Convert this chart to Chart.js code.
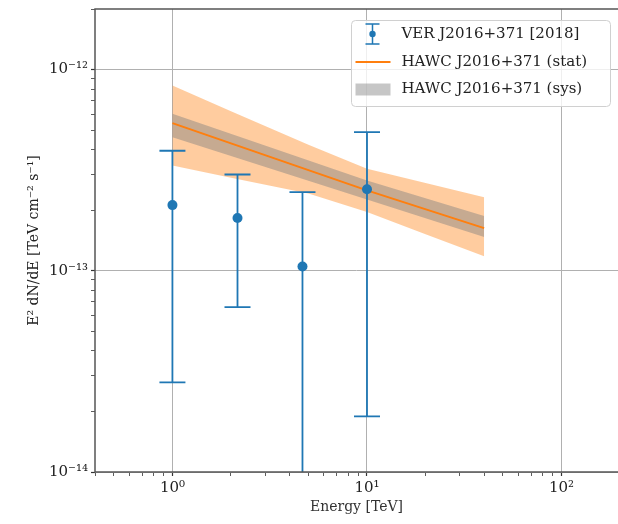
<!DOCTYPE html>
<html>
<head>
<meta charset="utf-8">
<script src="https://cdn.jsdelivr.net/npm/chart.js@4.4.1/dist/chart.umd.min.js"></script>
<style>
  html, body { margin: 0; padding: 0; background: #fff; }
  #wrap { width: 618px; height: 524px; }
</style>
</head>
<body>
<div id="wrap"><canvas id="chart" width="618" height="524"></canvas></div>
<script>
// VERITAS flux points (TeV, TeV cm^-2 s^-1)
const verEnergy = [1.0, 2.16, 4.66, 10.0];
const verFlux = [2.12e-13, 1.83e-13, 1.05e-13, 2.54e-13];
const verFluxHigh = [3.95e-13, 3.01e-13, 2.46e-13, 4.89e-13];
const verFluxLow = [2.79e-14, 6.6e-14, 1e-15, 1.89e-14];

// HAWC fit line and sys band
const hawcEnergy = [1, 10, 40];
const hawcFlux = [5.42e-13, 2.51e-13, 1.63e-13];
const hawcSysHigh = [6.03e-13, 2.81e-13, 1.87e-13];
const hawcSysLow = [4.61e-13, 2.26e-13, 1.47e-13];

// HAWC stat band
const statEnergy = [1, 2, 5, 10, 20, 40];
const hawcStatHigh = [8.33e-13, 6.21e-13, 4.23e-13, 3.21e-13, 2.73e-13, 2.32e-13];
const hawcStatLow = [3.34e-13, 2.90e-13, 2.42e-13, 1.96e-13, 1.52e-13, 1.18e-13];

const xMajor = [1, 10, 100];
const xLabels = ["10⁰", "10¹", "10²"];
const yMajor = [1e-14, 1e-13, 1e-12];
const yLabels = ["10⁻¹⁴", "10⁻¹³", "10⁻¹²"];
const legendLabels = ["VER J2016+371 [2018]", "HAWC J2016+371 (stat)", "HAWC J2016+371 (sys)"];

const azul = "#1f77b4";
const naranja = "#ff7f0e";
const fuente = "'DejaVu Serif', serif";

const pts = (xs, ys) => xs.map((x, i) => ({ x: x, y: ys[i] }));

function esDecada(v) {
  const l = Math.log10(v);
  return Math.abs(l - Math.round(l)) < 1e-6;
}

// ticks menores 2..9 y mayores en cada decada
function ticksLog(min, max) {
  const out = [];
  for (let e = Math.floor(Math.log10(min)); e <= Math.ceil(Math.log10(max)); e++) {
    for (let m = 1; m <= 9; m++) {
      const v = m * Math.pow(10, e);
      if (v >= min * 0.999 && v <= max * 1.001) out.push({ value: v, major: m === 1 });
    }
  }
  return out;
}

function etiqueta(value, majors, labels) {
  const i = majors.findIndex((v) => Math.abs(Math.log10(v) - Math.log10(value)) < 1e-6);
  return i >= 0 ? labels[i] : "";
}

const sinPadding = (s) => {
  s.paddingTop = 0;
  s.paddingBottom = 0;
  s.paddingLeft = 0;
  s.paddingRight = 0;
};

// barras de error, marco y leyenda
const extras = {
  id: "extras",
  beforeDatasetDraw(chart, args) {
    if (args.index !== 0) return;
    const { ctx, chartArea, scales } = chart;
    ctx.save();
    ctx.beginPath();
    ctx.rect(chartArea.left, chartArea.top, chartArea.right - chartArea.left, chartArea.bottom - chartArea.top);
    ctx.clip();
    ctx.strokeStyle = azul;
    ctx.lineWidth = 1.8;
    verEnergy.forEach((e, i) => {
      const x = scales.x.getPixelForValue(e);
      const yh = scales.y.getPixelForValue(verFluxHigh[i]);
      const yl = scales.y.getPixelForValue(verFluxLow[i]);
      ctx.beginPath();
      ctx.moveTo(x, yh);
      ctx.lineTo(x, yl);
      ctx.moveTo(x - 13, yh);
      ctx.lineTo(x + 13, yh);
      ctx.moveTo(x - 13, yl);
      ctx.lineTo(x + 13, yl);
      ctx.stroke();
    });
    ctx.restore();
  },
  afterDatasetsDraw(chart) {
    const { ctx, chartArea } = chart;
    ctx.save();
    ctx.strokeStyle = "#555";
    ctx.lineWidth = 1.5;
    ctx.strokeRect(chartArea.left, chartArea.top, chartArea.right - chartArea.left + 2, chartArea.bottom - chartArea.top);

    const bx = chartArea.right - 266.5;
    const by = chartArea.top + 11.5;
    ctx.beginPath();
    ctx.roundRect(bx, by, 259, 86, 4);
    ctx.fillStyle = "rgba(255,255,255,0.8)";
    ctx.fill();
    ctx.strokeStyle = "#d0d0d0";
    ctx.lineWidth = 1;
    ctx.stroke();

    const hx = bx + 4;
    const filas = [by + 13.5, by + 41.5, by + 69];
    const cx = hx + 17;
    ctx.strokeStyle = azul;
    ctx.lineWidth = 1.5;
    ctx.beginPath();
    ctx.moveTo(cx, filas[0] - 10);
    ctx.lineTo(cx, filas[0] + 10);
    ctx.moveTo(cx - 7, filas[0] - 10);
    ctx.lineTo(cx + 7, filas[0] - 10);
    ctx.moveTo(cx - 7, filas[0] + 10);
    ctx.lineTo(cx + 7, filas[0] + 10);
    ctx.stroke();
    ctx.fillStyle = azul;
    ctx.beginPath();
    ctx.arc(cx, filas[0], 3.2, 0, Math.PI * 2);
    ctx.fill();
    ctx.strokeStyle = naranja;
    ctx.lineWidth = 2;
    ctx.beginPath();
    ctx.moveTo(hx, filas[1]);
    ctx.lineTo(hx + 35, filas[1]);
    ctx.stroke();
    ctx.fillStyle = "rgba(128,128,128,0.45)";
    ctx.fillRect(hx, filas[2] - 6, 35, 12);

    ctx.fillStyle = "#222";
    ctx.font = "15px " + fuente;
    ctx.textBaseline = "middle";
    legendLabels.forEach((t, i) => ctx.fillText(t, bx + 50, filas[i]));
    ctx.restore();
  },
};

const xMin = 0.4, xMax = 195;
const yMin = 1e-14, yMax = 2e-12;

const gridOpts = {
  color: (c) => (c.tick && esDecada(c.tick.value) ? "#b0b0b0" : "rgba(0,0,0,0)"),
  lineWidth: 1,
  tickColor: "#333",
  tickLength: 4,
  tickWidth: (c) => (c.tick && esDecada(c.tick.value) ? 1.2 : 0.8),
};

new Chart(document.getElementById("chart"), {
  type: "line",
  data: {
    datasets: [
      {
        label: legendLabels[0],
        data: pts(verEnergy, verFlux),
        showLine: false,
        pointRadius: 5,
        pointHoverRadius: 5,
        pointBackgroundColor: azul,
        pointBorderWidth: 0,
        order: 0,
      },
      {
        label: legendLabels[1],
        data: pts(hawcEnergy, hawcFlux),
        borderColor: naranja,
        borderWidth: 2,
        pointRadius: 0,
        fill: false,
        order: 1,
      },
      {
        label: legendLabels[2],
        data: pts(hawcEnergy, hawcSysHigh),
        borderWidth: 0,
        borderColor: "rgba(0,0,0,0)",
        pointRadius: 0,
        fill: "+1",
        backgroundColor: "rgba(128,128,128,0.45)",
        order: 2,
      },
      {
        label: "sys low",
        data: pts(hawcEnergy, hawcSysLow),
        borderWidth: 0,
        borderColor: "rgba(0,0,0,0)",
        pointRadius: 0,
        fill: false,
        order: 3,
      },
      {
        label: "stat high",
        data: pts(statEnergy, hawcStatHigh),
        borderWidth: 0,
        borderColor: "rgba(0,0,0,0)",
        pointRadius: 0,
        fill: "+1",
        backgroundColor: "rgba(255,127,14,0.4)",
        order: 4,
      },
      {
        label: "stat low",
        data: pts(statEnergy, hawcStatLow),
        borderWidth: 0,
        borderColor: "rgba(0,0,0,0)",
        pointRadius: 0,
        fill: false,
        order: 5,
      },
    ],
  },
  options: {
    responsive: false,
    animation: false,
    events: [],
    layout: { autoPadding: false, padding: { top: 9, left: 0, right: 0, bottom: 0 } },
    plugins: {
      legend: { display: false },
      tooltip: { enabled: false },
    },
    scales: {
      x: {
        type: "logarithmic",
        min: xMin,
        max: xMax,
        afterBuildTicks: (s) => { s.ticks = ticksLog(xMin, xMax); },
        afterFit: (s) => { s.height = 52; sinPadding(s); },
        border: { display: false },
        grid: gridOpts,
        ticks: {
          autoSkip: false,
          maxRotation: 0,
          padding: 3,
          color: "#222",
          font: { family: fuente, size: 15 },
          callback: (v) => etiqueta(v, xMajor, xLabels),
        },
        title: {
          display: true,
          text: "Energy [TeV]",
          color: "#333",
          font: { family: fuente, size: 14 },
          padding: { top: 0, bottom: 8 },
        },
      },
      y: {
        type: "logarithmic",
        min: yMin,
        max: yMax,
        afterBuildTicks: (s) => { s.ticks = ticksLog(yMin, yMax); },
        afterFit: (s) => { s.width = 95; sinPadding(s); },
        border: { display: false },
        grid: gridOpts,
        ticks: {
          autoSkip: false,
          padding: 3,
          color: "#222",
          font: { family: fuente, size: 15 },
          callback: (v) => etiqueta(v, yMajor, yLabels),
        },
        title: {
          display: true,
          text: "E² dN/dE [TeV cm⁻² s⁻¹]",
          color: "#222",
          font: { family: fuente, size: 14 },
          padding: { top: 26, bottom: 0 },
        },
      },
    },
  },
  plugins: [extras],
});
</script>
</body>
</html>
